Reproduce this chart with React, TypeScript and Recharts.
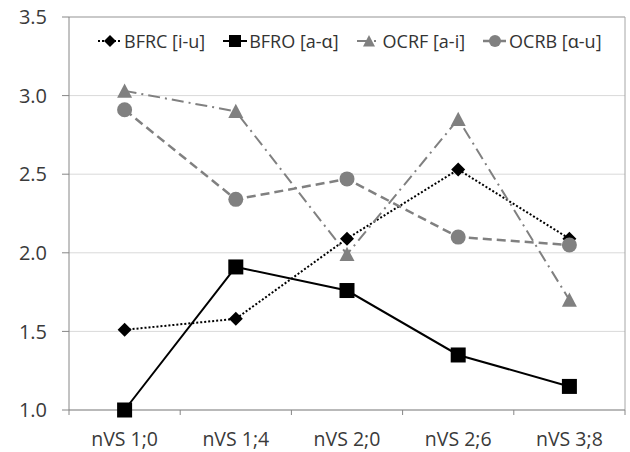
import React from 'react';
import {
  ComposedChart, Line, XAxis, YAxis, CartesianGrid, Legend,
} from 'recharts';

const categories = ['nVS 1;0', 'nVS 1;4', 'nVS 2;0', 'nVS 2;6', 'nVS 3;8'];
const bfrc = [1.51, 1.58, 2.09, 2.53, 2.09];
const bfro = [1.0, 1.91, 1.76, 1.35, 1.15];
const ocrf = [3.03, 2.9, 1.99, 2.85, 1.7];
const ocrb = [2.91, 2.34, 2.47, 2.1, 2.05];
const yTicks = [1.0, 1.5, 2.0, 2.5, 3.0, 3.5];

const GRAY = '#808080';
const AXIS = '#868686';
const FONT = '"Open Sans", "Noto Sans", sans-serif';
const X_TICK_MARGIN = 22;

const data = categories.map((cat, i) => ({
  cat,
  bfrc: bfrc[i],
  bfro: bfro[i],
  ocrf: ocrf[i],
  ocrb: ocrb[i],
}));

// marker shapes
const Diamond = ({ cx, cy, s = 7, fill = '#000' }: any) => (
  <polygon points={`${cx},${cy - s} ${cx + s},${cy} ${cx},${cy + s} ${cx - s},${cy}`} fill={fill} />
);
const Square = ({ cx, cy, s = 7.5, fill = '#000' }: any) => (
  <rect x={cx - s} y={cy - s} width={s * 2} height={s * 2} fill={fill} />
);
const Triangle = ({ cx, cy, s = 7.5, fill = GRAY }: any) => (
  <polygon points={`${cx},${cy - s} ${cx + s},${cy + s * 0.9} ${cx - s},${cy + s * 0.9}`} fill={fill} />
);
const Circle = ({ cx, cy, s = 7.5, fill = GRAY }: any) => (
  <circle cx={cx} cy={cy} r={s} fill={fill} />
);

const series = [
  { key: 'bfrc', name: 'BFRC [i-u]', color: '#000', width: 2, dash: '2 2', Marker: Diamond },
  { key: 'bfro', name: 'BFRO [a-ɑ]', color: '#000', width: 2, dash: undefined, Marker: Square },
  { key: 'ocrf', name: 'OCRF [a-i]', color: GRAY, width: 2, dash: '12 5 2 5', Marker: Triangle },
  { key: 'ocrb', name: 'OCRB [ɑ-u]', color: GRAY, width: 2.5, dash: '9 5', Marker: Circle },
];

const LegendContent = () => (
  <div style={{ display: 'flex', gap: 17, paddingLeft: 97, fontFamily: FONT, fontSize: 18, color: '#333', lineHeight: '22px' }}>
    {series.map(s => (
      <div key={s.key} style={{ display: 'flex', alignItems: 'center' }}>
        <svg width={26} height={16} style={{ marginRight: 1 }}>
          <line x1={1} y1={8} x2={25} y2={8} stroke={s.color} strokeWidth={s.width} strokeDasharray={s.dash} />
          <s.Marker cx={13} cy={8} s={6} />
        </svg>
        <span>{s.name}</span>
      </div>
    ))}
  </div>
);

// category label centred in its band, tick marks at the band edges
const CatTick = (props: any) => {
  const { x, y, payload, index, visibleTicksCount } = props;
  const half = payload.offset || 0;
  const axisY = y - X_TICK_MARGIN;
  const last = index === visibleTicksCount - 1;
  return (
    <g>
      <line x1={x - half} y1={axisY} x2={x - half} y2={axisY + 5} stroke={AXIS} />
      {last && <line x1={x + half} y1={axisY} x2={x + half} y2={axisY + 5} stroke={AXIS} />}
      <text x={x} y={y} dy="0.71em" textAnchor="middle" fontSize={19.5} fill="#3a3a3a" fontFamily={FONT}>
        {payload.value}
      </text>
    </g>
  );
};

export default function App() {
  return (
    <div style={{ width: 630, height: 452, background: '#fff', fontFamily: FONT }}>
      <style>{'body{margin:0}'}</style>
      <ComposedChart width={630} height={452} data={data} margin={{ top: 17, right: 5, left: 0, bottom: 0 }}>
        <CartesianGrid vertical={false} stroke="#d9d9d9" strokeWidth={1} />
        {/* plot area outline, top and right */}
        <CartesianGrid
          stroke="#a6a6a6"
          horizontalCoordinatesGenerator={({ offset }: any) => [offset.top]}
          verticalCoordinatesGenerator={({ offset }: any) => [offset.left + offset.width]}
        />
        <XAxis
          dataKey="cat"
          scale="band"
          height={42}
          stroke={AXIS}
          tickLine={false}
          tickSize={0}
          tickMargin={X_TICK_MARGIN}
          interval={0}
          tick={<CatTick />}
        />
        <YAxis
          domain={[1, 3.5]}
          ticks={yTicks}
          width={69}
          tickSize={7}
          tickMargin={15}
          stroke={AXIS}
          tickFormatter={(v: number) => v.toFixed(1)}
          tick={{ fontSize: 20, fill: '#3a3a3a', fontFamily: FONT }}
        />
        <Legend
          verticalAlign="middle"
          wrapperStyle={{ top: 30, left: 0, width: 630 }}
          content={<LegendContent />}
        />
        {series.map(s => (
          <Line
            key={s.key}
            dataKey={s.key}
            name={s.name}
            stroke={s.color}
            strokeWidth={s.width}
            strokeDasharray={s.dash}
            isAnimationActive={false}
            dot={(p: any) => <s.Marker key={`${s.key}-${p.index}`} cx={p.cx} cy={p.cy} />}
            activeDot={false}
          />
        ))}
      </ComposedChart>
    </div>
  );
}
